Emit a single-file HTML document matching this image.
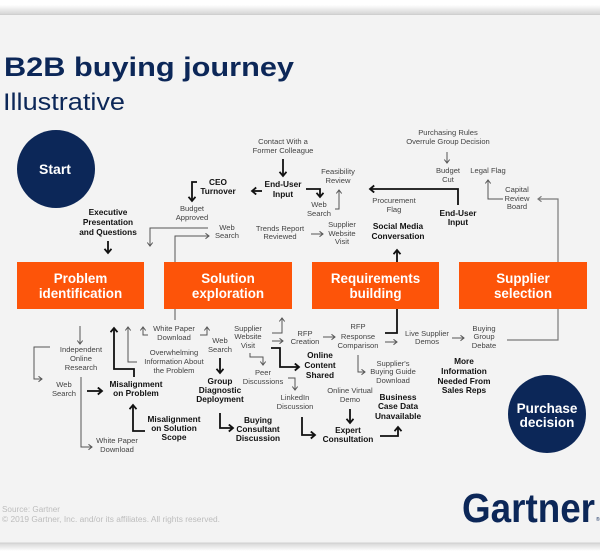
<!DOCTYPE html>
<html><head><meta charset="utf-8"><style>
html,body{margin:0;padding:0;background:#fff;}
svg{display:block;}
.t{font-family:"Liberation Sans",sans-serif;font-size:7.6px;fill:#444;text-anchor:middle;}
.b{font-family:"Liberation Sans",sans-serif;font-size:8.3px;font-weight:bold;fill:#111;text-anchor:middle;}
.o{font-family:"Liberation Sans",sans-serif;font-size:13.4px;font-weight:bold;fill:#fff;text-anchor:middle;}
.thin{fill:none;stroke:#555;stroke-width:1;}
.bold{fill:none;stroke:#111;stroke-width:1.8;}
</style></head><body>
<svg width="600" height="555" viewBox="0 0 600 555" xmlns="http://www.w3.org/2000/svg">
<defs>
<linearGradient id="st" x1="0" y1="0" x2="0" y2="1"><stop offset="0" stop-color="#fff"/><stop offset="1" stop-color="#d6d6d6"/></linearGradient>
<linearGradient id="sb" x1="0" y1="0" x2="0" y2="1"><stop offset="0" stop-color="#d6d6d6"/><stop offset="1" stop-color="#fff"/></linearGradient>
<marker id="mt" markerUnits="userSpaceOnUse" markerWidth="8" markerHeight="8" refX="4" refY="3" orient="auto"><path d="M0.5,0.3 L4,3 L0.5,5.7" fill="none" stroke="#555" stroke-width="1"/></marker>
<marker id="mg" markerUnits="userSpaceOnUse" markerWidth="8" markerHeight="8" refX="4" refY="3" orient="auto"><path d="M0.5,0.3 L4,3 L0.5,5.7" fill="none" stroke="#7a7a7a" stroke-width="1.2"/></marker>
<marker id="mb" markerUnits="userSpaceOnUse" markerWidth="10" markerHeight="10" refX="5" refY="4" orient="auto"><path d="M0.8,0.5 L5,4 L0.8,7.5" fill="none" stroke="#111" stroke-width="1.8"/></marker>
</defs>
<rect x="0" y="0" width="600" height="555" fill="#fff"/>
<rect x="0" y="5" width="600" height="9" fill="url(#st)"/>
<rect x="0" y="14" width="600" height="529" fill="#f3f3f3"/>
<line x1="0" y1="14.5" x2="600" y2="14.5" stroke="#cfcfcf" stroke-width="1"/>
<rect x="0" y="543" width="600" height="8" fill="url(#sb)"/>
<line x1="0" y1="543" x2="600" y2="543" stroke="#d0d0d0" stroke-width="1"/>

<text x="4" y="76" font-family="Liberation Sans,sans-serif" font-size="27" font-weight="bold" fill="#0c2758" textLength="290" lengthAdjust="spacingAndGlyphs">B2B buying journey</text>
<text x="3" y="110" font-family="Liberation Sans,sans-serif" font-size="24.5" fill="#0c2758" textLength="122" lengthAdjust="spacingAndGlyphs">Illustrative</text>

<circle cx="56" cy="169" r="39" fill="#0c2758"/>
<text x="55" y="174" font-family="Liberation Sans,sans-serif" font-size="14" font-weight="bold" fill="#fff" text-anchor="middle">Start</text>

<!-- lines behind boxes -->
<path class="thin" d="M175,320 L175,236 L209,236" marker-end="url(#mt)"/>
<path d="M507,340 L558,340 L558,199 L538,199" fill="none" stroke="#7a7a7a" stroke-width="1.2" marker-end="url(#mg)"/>
<path class="bold" d="M385,333 L397,333 L397,250" marker-end="url(#mb)"/>

<!-- boxes -->
<rect x="17" y="262" width="127" height="47" fill="#fd5409"/>
<rect x="164" y="262" width="128" height="47" fill="#fd5409"/>
<rect x="312" y="262" width="127" height="47" fill="#fd5409"/>
<rect x="459" y="262" width="128" height="47" fill="#fd5409"/>
<text class="o" x="80.5" y="283">Problem</text><text class="o" x="80.5" y="298">identification</text>
<text class="o" x="228" y="283">Solution</text><text class="o" x="228" y="298">exploration</text>
<text class="o" x="375.5" y="283">Requirements</text><text class="o" x="375.5" y="298">building</text>
<text class="o" x="523" y="283">Supplier</text><text class="o" x="523" y="298">selection</text>

<!-- bold connectors -->
<path class="bold" d="M283,159 L283,176" marker-end="url(#mb)"/>
<path class="bold" d="M262,191 L252,191" marker-end="url(#mb)"/>
<path class="bold" d="M197,182 L192,182 L192,201" marker-end="url(#mb)"/>
<path class="bold" d="M306,189 L320,189 L320,197" marker-end="url(#mb)"/>
<path class="bold" d="M108,241 L108,253" marker-end="url(#mb)"/>
<path class="bold" d="M458,205 L458,189 L370,189" marker-end="url(#mb)"/>
<path class="bold" d="M134,377 L134,369 L114,369 L114,328" marker-end="url(#mb)"/>
<path class="bold" d="M145,431 L133,431 L133,405" marker-end="url(#mb)"/>
<path class="bold" d="M87,391 L102,391" marker-end="url(#mb)"/>
<path class="bold" d="M220,358 L220,373" marker-end="url(#mb)"/>
<path class="bold" d="M220,413 L220,428 L233,428" marker-end="url(#mb)"/>
<path class="bold" d="M271,348 L280,348 L280,367 L299,367" marker-end="url(#mb)"/>
<path class="bold" d="M302,417 L302,435 L315,435" marker-end="url(#mb)"/>
<path class="bold" d="M350,409 L350,423" marker-end="url(#mb)"/>
<path class="bold" d="M380,436 L398,436 L398,427" marker-end="url(#mb)"/>

<!-- thin connectors -->
<path class="thin" d="M447,152 L447,163" marker-end="url(#mt)"/>
<path class="thin" d="M503,199 L488,199 L488,180" marker-end="url(#mt)"/>
<path class="thin" d="M335,209 L339,209 L339,190" marker-end="url(#mt)"/>
<path class="thin" d="M311,234 L323,234" marker-end="url(#mt)"/>
<path class="thin" d="M208,228 L150,228 L150,246" marker-end="url(#mt)"/>
<path class="thin" d="M80,326 L80,344" marker-end="url(#mt)"/>
<path class="thin" d="M50,347 L34,347 L34,379 L42,379" marker-end="url(#mt)"/>
<path class="thin" d="M81,377 L81,447 L92,447" marker-end="url(#mt)"/>
<path class="thin" d="M137,362 L128,362 L128,327" marker-end="url(#mt)"/>
<path class="thin" d="M148,335 L143,335 L143,327" marker-end="url(#mt)"/>
<path class="thin" d="M200,335 L207,335 L207,327" marker-end="url(#mt)"/>
<path class="thin" d="M272,333 L282,333 L282,318" marker-end="url(#mt)"/>
<path class="thin" d="M272,341 L283,341" marker-end="url(#mt)"/>
<path class="thin" d="M250,353 L250,357 L263,357 L263,365" marker-end="url(#mt)"/>
<path class="thin" d="M323,337 L335,337" marker-end="url(#mt)"/>
<path class="thin" d="M385,342 L397,342" marker-end="url(#mt)"/>
<path class="thin" d="M358,355 L358,372 L365,372" marker-end="url(#mt)"/>
<path class="thin" d="M288,378 L295,378 L295,390" marker-end="url(#mt)"/>
<path class="thin" d="M452,338 L464,338" marker-end="url(#mt)"/>

<!-- top labels -->
<text class="t" x="283" y="144">Contact With a</text><text class="t" x="283" y="153">Former Colleague</text>
<text class="b" x="283" y="187">End-User</text><text class="b" x="283" y="197">Input</text>
<text class="b" x="218" y="185">CEO</text><text class="b" x="218" y="194">Turnover</text>
<text class="t" x="192" y="211">Budget</text><text class="t" x="192" y="220">Approved</text>
<text class="t" x="319" y="207">Web</text><text class="t" x="319" y="216">Search</text>
<text class="t" x="338" y="174">Feasibility</text><text class="t" x="338" y="183">Review</text>
<text class="t" x="280" y="231">Trends Report</text><text class="t" x="280" y="239">Reviewed</text>
<text class="t" x="342" y="227">Supplier</text><text class="t" x="342" y="236">Website</text><text class="t" x="342" y="244">Visit</text>
<text class="t" x="227" y="230">Web</text><text class="t" x="227" y="238">Search</text>
<text class="b" x="108" y="215">Executive</text><text class="b" x="108" y="225">Presentation</text><text class="b" x="108" y="235">and Questions</text>
<text class="t" x="448" y="135">Purchasing Rules</text><text class="t" x="448" y="144">Overrule Group Decision</text>
<text class="t" x="448" y="173">Budget</text><text class="t" x="448" y="182">Cut</text>
<text class="t" x="488" y="173">Legal Flag</text>
<text class="t" x="517" y="192">Capital</text><text class="t" x="517" y="201">Review</text><text class="t" x="517" y="209">Board</text>
<text class="t" x="394" y="203">Procurement</text><text class="t" x="394" y="212">Flag</text>
<text class="b" x="458" y="216">End-User</text><text class="b" x="458" y="225">Input</text>
<text class="b" x="398" y="229">Social Media</text><text class="b" x="398" y="239">Conversation</text>

<!-- bottom labels -->
<text class="t" x="81" y="352">Independent</text><text class="t" x="81" y="361">Online</text><text class="t" x="81" y="370">Research</text>
<text class="t" x="64" y="387">Web</text><text class="t" x="64" y="396">Search</text>
<text class="b" x="136" y="387">Misalignment</text><text class="b" x="136" y="396">on Problem</text>
<text class="t" x="117" y="443">White Paper</text><text class="t" x="117" y="452">Download</text>
<text class="b" x="174" y="422">Misalignment</text><text class="b" x="174" y="431">on Solution</text><text class="b" x="174" y="440">Scope</text>
<text class="t" x="174" y="355">Overwhelming</text><text class="t" x="174" y="364">Information About</text><text class="t" x="174" y="373">the Problem</text>
<text class="t" x="174" y="331">White Paper</text><text class="t" x="174" y="340">Download</text>
<text class="t" x="220" y="343">Web</text><text class="t" x="220" y="352">Search</text>
<text class="b" x="220" y="384">Group</text><text class="b" x="220" y="393">Diagnostic</text><text class="b" x="220" y="402">Deployment</text>
<text class="b" x="258" y="423">Buying</text><text class="b" x="258" y="432">Consultant</text><text class="b" x="258" y="441">Discussion</text>
<text class="t" x="248" y="331">Supplier</text><text class="t" x="248" y="339">Website</text><text class="t" x="248" y="348">Visit</text>
<text class="t" x="305" y="336">RFP</text><text class="t" x="305" y="344">Creation</text>
<text class="t" x="358" y="329">RFP</text><text class="t" x="358" y="339">Response</text><text class="t" x="358" y="348">Comparison</text>
<text class="b" x="320" y="358">Online</text><text class="b" x="320" y="368">Content</text><text class="b" x="320" y="378">Shared</text>
<text class="t" x="263" y="375">Peer</text><text class="t" x="263" y="384">Discussions</text>
<text class="t" x="295" y="400">LinkedIn</text><text class="t" x="295" y="409">Discussion</text>
<text class="b" x="348" y="433">Expert</text><text class="b" x="348" y="442">Consultation</text>
<text class="t" x="350" y="393">Online Virtual</text><text class="t" x="350" y="402">Demo</text>
<text class="b" x="398" y="400">Business</text><text class="b" x="398" y="409">Case Data</text><text class="b" x="398" y="419">Unavailable</text>
<text class="t" x="393" y="366">Supplier's</text><text class="t" x="393" y="374">Buying Guide</text><text class="t" x="393" y="383">Download</text>
<text class="t" x="427" y="336">Live Supplier</text><text class="t" x="427" y="344">Demos</text>
<text class="t" x="484" y="331">Buying</text><text class="t" x="484" y="339">Group</text><text class="t" x="484" y="348">Debate</text>
<text class="b" x="464" y="364">More</text><text class="b" x="464" y="374">Information</text><text class="b" x="464" y="384">Needed From</text><text class="b" x="464" y="393">Sales Reps</text>

<circle cx="547" cy="414" r="39" fill="#0c2758"/>
<text x="547" y="413" font-family="Liberation Sans,sans-serif" font-size="13.5" font-weight="bold" fill="#fff" text-anchor="middle">Purchase</text>
<text x="547" y="427" font-family="Liberation Sans,sans-serif" font-size="13.5" font-weight="bold" fill="#fff" text-anchor="middle">decision</text>

<text x="462" y="522" font-family="Liberation Sans,sans-serif" font-size="41" font-weight="bold" fill="#0c2758" textLength="133" lengthAdjust="spacingAndGlyphs">Gartner</text>
<text x="596" y="521" font-family="Liberation Sans,sans-serif" font-size="5" fill="#0c2758">®</text>

<text x="2" y="512" font-family="Liberation Sans,sans-serif" font-size="8" fill="#bdbdbd" textLength="58" lengthAdjust="spacingAndGlyphs">Source: Gartner</text>
<text x="2" y="522" font-family="Liberation Sans,sans-serif" font-size="8" fill="#bdbdbd" textLength="218" lengthAdjust="spacingAndGlyphs">© 2019 Gartner, Inc. and/or its affiliates. All rights reserved.</text>
</svg>
</body></html>
